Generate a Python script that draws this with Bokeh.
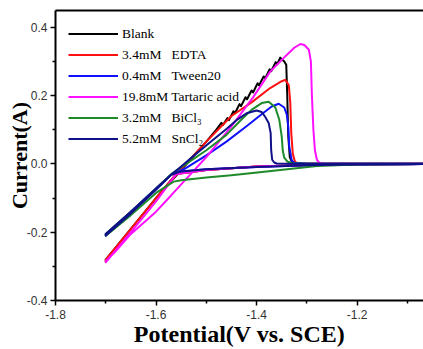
from bokeh.plotting import figure
from bokeh.models import (FixedTicker, PrintfTickFormatter, Legend, LegendItem,
                          LinearAxis, Range1d)
from bokeh.embed import file_html
from bokeh.resources import INLINE

# ---------------- data ----------------
labels = ["Blank",
          "3.4mM\u00a0\u00a0\u00a0EDTA",
          "0.4mM\u00a0\u00a0\u00a0Tween20",
          "19.8mM Tartaric acid",
          "3.2mM\u00a0\u00a0\u00a0BiCl\u2083",
          "5.2mM\u00a0\u00a0\u00a0SnCl\u2082"]
colors = ["#000000", "#ff1010", "#1010ff", "#ff10ff", "#1f8a2a", "#101088"]

# Blank
blank_fwd_v = [-1.0, -1.2, -1.3, -1.4, -1.5, -1.56, -1.6, -1.65, -1.7]
blank_fwd_i = [0.0, -0.001, -0.003, -0.008, -0.018, -0.03, -0.1, -0.19, -0.285]
blank_rev_v = [-1.7, -1.65, -1.6, -1.55, -1.5, -1.48, -1.470, -1.467, -1.458, -1.455,
               -1.446, -1.443, -1.434, -1.431, -1.422, -1.419, -1.410, -1.407,
               -1.398, -1.395, -1.386, -1.383, -1.374, -1.371, -1.362, -1.359,
               -1.353, -1.345, -1.341, -1.339, -1.337, -1.334, -1.33, -1.32, -1.3, -1.0]
blank_rev_i = [-0.28, -0.19, -0.1, -0.018, 0.065, 0.100, 0.120, 0.114, 0.134, 0.128,
               0.154, 0.148, 0.175, 0.169, 0.195, 0.189, 0.215, 0.209,
               0.236, 0.230, 0.256, 0.250, 0.277, 0.271, 0.298, 0.292,
               0.311, 0.300, 0.29, 0.2, 0.08, 0.02, 0.006, 0.001, 0.0, 0.0]

# 3.4mM EDTA
edta_fwd_v = [-1.0, -1.2, -1.3, -1.4, -1.5, -1.56, -1.6, -1.65, -1.7]
edta_fwd_i = [0.0, -0.001, -0.003, -0.008, -0.018, -0.03, -0.1, -0.19, -0.285]
edta_rev_v = [-1.7, -1.65, -1.6, -1.55, -1.5, -1.45, -1.41, -1.373, -1.35, -1.343,
              -1.336, -1.333, -1.331, -1.328, -1.324, -1.32, -1.3, -1.0]
edta_rev_i = [-0.28, -0.19, -0.1, -0.015, 0.065, 0.14, 0.18, 0.222, 0.242, 0.246,
              0.231, 0.18, 0.09, 0.03, 0.008, 0.002, 0.0, 0.0]

# 0.4mM Tween20
tween_fwd_v = [-1.0, -1.1, -1.2, -1.3, -1.4, -1.5, -1.55, -1.57, -1.6, -1.65, -1.7]
tween_fwd_i = [0.0, -0.001, -0.002, -0.004, -0.009, -0.016, -0.022, -0.032, -0.075, -0.145, -0.21]
tween_rev_v = [-1.7, -1.65, -1.6, -1.57, -1.54, -1.5, -1.46, -1.42, -1.39, -1.37,
               -1.356, -1.345, -1.34, -1.337, -1.335, -1.33, -1.325, -1.3, -1.0]
tween_rev_i = [-0.205, -0.14, -0.072, -0.032, -0.012, 0.025, 0.065, 0.11, 0.145, 0.168,
               0.176, 0.165, 0.145, 0.11, 0.05, 0.01, 0.003, 0.0, 0.0]

# 19.8mM Tartaric acid
tart_fwd_v = [-1.0, -1.2, -1.3, -1.4, -1.5, -1.56, -1.6, -1.65, -1.7]
tart_fwd_i = [0.0, -0.001, -0.003, -0.008, -0.018, -0.03, -0.11, -0.2, -0.288]
tart_rev_v = [-1.7, -1.68, -1.65, -1.6, -1.578, -1.55, -1.526, -1.5, -1.45, -1.406,
              -1.373, -1.34, -1.325, -1.313, -1.305, -1.296, -1.292, -1.29, -1.287,
              -1.284, -1.28, -1.275, -1.26, -1.0]
tart_rev_i = [-0.285, -0.255, -0.205, -0.14, -0.105, -0.06, -0.022, 0.02, 0.11, 0.197,
              0.27, 0.319, 0.34, 0.351, 0.348, 0.334, 0.3, 0.2, 0.1,
              0.04, 0.012, 0.003, 0.0, 0.0]

# 3.2mM BiCl3
bi_fwd_v = [-1.0, -1.2, -1.28, -1.38, -1.45, -1.5, -1.55, -1.565, -1.6, -1.65, -1.7]
bi_fwd_i = [0.0, -0.002, -0.006, -0.022, -0.033, -0.04, -0.048, -0.052, -0.085, -0.15, -0.21]
bi_rev_v = [-1.7, -1.65, -1.6, -1.57, -1.54, -1.5, -1.46, -1.43, -1.41, -1.39,
            -1.376, -1.363, -1.355, -1.35, -1.348, -1.345, -1.339, -1.33, -1.3, -1.0]
bi_rev_i = [-0.205, -0.14, -0.072, -0.03, 0.0, 0.04, 0.085, 0.13, 0.158, 0.178,
            0.182, 0.166, 0.13, 0.08, 0.04, 0.018, 0.007, 0.002, 0.0, 0.0]

# 5.2mM SnCl2
sn_fwd_v = [-1.0, -1.1, -1.2, -1.3, -1.4, -1.5, -1.55, -1.57, -1.6, -1.65, -1.7]
sn_fwd_i = [0.0, -0.001, -0.002, -0.004, -0.009, -0.016, -0.022, -0.032, -0.075, -0.145, -0.21]
sn_rev_v = [-1.7, -1.65, -1.6, -1.57, -1.55, -1.52, -1.49, -1.46, -1.44, -1.42, -1.40,
            -1.39, -1.383, -1.376, -1.372, -1.371, -1.369, -1.365, -1.36, -1.3, -1.0]
sn_rev_i = [-0.205, -0.14, -0.072, -0.032, -0.008, 0.03, 0.066, 0.102, 0.128, 0.148, 0.156,
            0.152, 0.138, 0.12, 0.09, 0.04, 0.012, 0.004, 0.001, 0.0, 0.0]

series = [
    (blank_fwd_v + blank_rev_v, blank_fwd_i + blank_rev_i),
    (edta_fwd_v + edta_rev_v, edta_fwd_i + edta_rev_i),
    (tween_fwd_v + tween_rev_v, tween_fwd_i + tween_rev_i),
    (tart_fwd_v + tart_rev_v, tart_fwd_i + tart_rev_i),
    (bi_fwd_v + bi_rev_v, bi_fwd_i + bi_rev_i),
    (sn_fwd_v + sn_rev_v, sn_fwd_i + sn_rev_i),
]

x_ticks = [-1.8, -1.6, -1.4, -1.2, -1.0]
x_minor = [-1.7, -1.5, -1.3, -1.1]
y_ticks = [-0.4, -0.2, 0.0, 0.2, 0.4]
y_minor = [-0.3, -0.1, 0.1, 0.3]

# ---------------- figure ----------------
p = figure(width=423, height=349, output_backend="svg", toolbar_location=None,
           x_range=Range1d(-1.8, -1.068), y_range=Range1d(-0.4, 0.449),
           min_border_left=55, min_border_right=0, min_border_top=10,
           min_border_bottom=49)
p.outline_line_color = None
p.xgrid.visible = False
p.ygrid.visible = False
p.background_fill_color = "white"
p.border_fill_color = "white"

items = []
for (xs, ys), c, lab in zip(series, colors, labels):
    r = p.line(xs, ys, line_color=c, line_width=2, line_join="round")
    items.append(LegendItem(label=lab, renderers=[r]))

tick_font = "Liberation Sans"
for ax, ticks, minor in ((p.xaxis[0], x_ticks, x_minor), (p.yaxis[0], y_ticks, y_minor)):
    ax.ticker = FixedTicker(ticks=ticks, minor_ticks=minor)
    ax.formatter = PrintfTickFormatter(format="%.1f")
    ax.axis_line_width = 2
    ax.axis_line_color = "black"
    ax.major_tick_line_width = 1.5
    ax.minor_tick_line_width = 1.5
    ax.major_tick_in = 0
    ax.major_tick_out = 5
    ax.minor_tick_in = 0
    ax.minor_tick_out = 3
    ax.major_label_text_font = tick_font
    ax.major_label_text_font_size = "12px"
    ax.major_label_text_color = "#333333"
    ax.axis_label_text_font = "Liberation Serif"
    ax.axis_label_text_font_style = "bold"
    ax.axis_label_text_color = "black"

p.xaxis.axis_label = "Potential(V vs. SCE)"
p.xaxis.axis_label_text_font_size = "24px"
p.xaxis.axis_label_text_line_height = 1.0
p.xaxis.major_label_standoff = 4
p.xaxis.axis_label_standoff = -1

p.yaxis.axis_label = "Current(A)"
p.yaxis.axis_label_text_font_size = "22px"
p.yaxis.major_label_standoff = 3
p.yaxis.axis_label_standoff = -8

top = LinearAxis(ticker=FixedTicker(ticks=[]), axis_line_width=2,
                 major_tick_out=0, major_tick_in=0, minor_tick_out=0, minor_tick_in=0)
p.add_layout(top, "above")

legend = Legend(items=items, location="top_left", margin=13, padding=0,
                spacing=0, glyph_width=50, glyph_height=21, label_height=21,
                label_standoff=4, label_text_font="Liberation Serif",
                label_text_font_size="13.5px", label_text_color="black",
                border_line_color=None, background_fill_alpha=0)
p.add_layout(legend)

open("out.html", "w").write(file_html(p, INLINE))
